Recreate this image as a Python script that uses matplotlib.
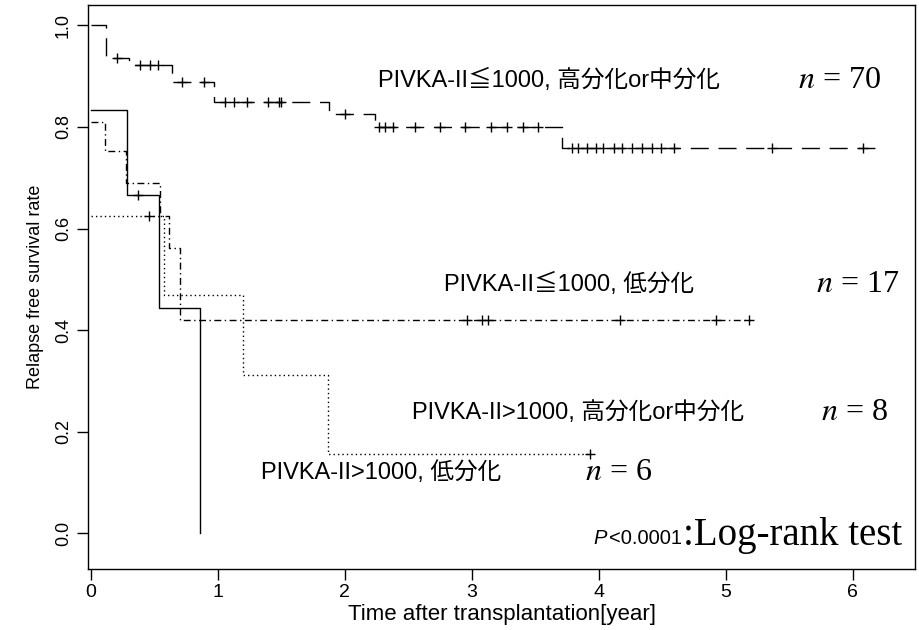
import numpy as np
import matplotlib.pyplot as plt

plt.rcParams['mathtext.fontset'] = 'stix'

# Kaplan-Meier step data
# PIVKA-II<=1000, well/moderately differentiated (n=70)
a_time = [0, 0.12, 0.30, 0.64, 0.97, 1.88, 2.24, 3.71, 6.18]
a_surv = [1.0, 0.936, 0.921, 0.888, 0.850, 0.825, 0.800, 0.758, 0.758]
a_cens = [0.21, 0.39, 0.47, 0.53, 0.72, 0.89, 1.06, 1.13, 1.23, 1.40, 1.48, 1.50,
          2.00, 2.27, 2.32, 2.38, 2.55, 2.75, 2.95, 3.15, 3.28, 3.40, 3.52,
          3.79, 3.84, 3.91, 3.98, 4.03, 4.12, 4.18, 4.26, 4.34, 4.42, 4.49, 4.59,
          5.36, 6.08]

# PIVKA-II<=1000, poorly differentiated (n=17)
b_time = [0, 0.115, 0.28, 0.546, 0.62, 0.70, 5.18]
b_surv = [0.81, 0.752, 0.69, 0.625, 0.561, 0.42, 0.42]
b_cens = [2.96, 3.08, 3.13, 4.17, 4.92, 5.18]

# PIVKA-II>1000, well/moderately differentiated (n=8)
c_time = [0, 0.58, 1.20, 1.87, 3.93]
c_surv = [0.625, 0.469, 0.3125, 0.156, 0.156]
c_cens = [0.46, 3.93]

# PIVKA-II>1000, poorly differentiated (n=6)
d_time = [0, 0.29, 0.54, 0.86]
d_surv = [0.833, 0.667, 0.444, 0.0]
d_cens = [0.37]

labels = ["PIVKA-II≦1000, 高分化or中分化", "PIVKA-II≦1000, 低分化",
          "PIVKA-II>1000, 高分化or中分化", "PIVKA-II>1000, 低分化"]
n_values = [70, 17, 8, 6]

jp = ['Liberation Sans', 'Noto Sans CJK JP', 'DejaVu Sans']
sans = ['Liberation Sans', 'DejaVu Sans']


def km_curve(ax, t, s, cens, ls):
    ax.step(t, s, where='post', color='black', lw=1.0, linestyle=ls)
    t = np.array(t)
    s = np.array(s)
    idx = np.searchsorted(t, cens, side='right') - 1
    ax.plot(cens, s[idx], '+', color='black', ms=6.5, mew=1.0)


fig = plt.figure(figsize=(9.2, 6.3), dpi=100)
ax = fig.add_axes([0.0957, 0.097, 0.899, 0.895])

km_curve(ax, a_time, a_surv, a_cens, (0, (13, 7)))
km_curve(ax, b_time, b_surv, b_cens, (0, (5, 2.5, 1, 2.5)))
km_curve(ax, c_time, c_surv, c_cens, (0, (1, 2.2)))
km_curve(ax, d_time, d_surv, d_cens, '-')

ax.set_xlim(-0.02, 6.49)
ax.set_ylim(-0.07, 1.04)
ax.set_xticks([0, 1, 2, 3, 4, 5, 6])
ax.set_yticks([0.0, 0.2, 0.4, 0.6, 0.8, 1.0])
ax.set_yticklabels(["0.0", "0.2", "0.4", "0.6", "0.8", "1.0"], rotation=90,
                   va='center', family=sans, fontsize=13)
ax.set_xticklabels(["0", "1", "2", "3", "4", "5", "6"], family=sans, fontsize=14)
ax.tick_params(axis='both', direction='out', length=8, width=1)
ax.tick_params(axis='x', pad=3)
for sp in ax.spines.values():
    sp.set_linewidth(1.0)

ax.set_xlabel("Time after transplantation[year]", fontsize=16, labelpad=2,
              family=sans)
ax.set_ylabel("Relapse free survival rate", fontsize=13, labelpad=8,
              family=sans)

# group labels and sizes
lab_pos = [(2.26, 0.891), (2.78, 0.489), (2.53, 0.238), (1.34, 0.119)]
n_x = [5.57, 5.71, 5.75, 3.89]
for lab, (x, y), nx, n in zip(labels, lab_pos, n_x, n_values):
    ax.text(x, y, lab, fontsize=17, family=jp, va='center', ha='left')
    ax.text(nx, y, r"$n$ = %d" % n, fontsize=23, family='Liberation Serif',
            va='center', ha='left')

ax.text(3.96, -0.01, "P", fontsize=14.5, style='italic',
        family='Liberation Sans', va='center', ha='left')
ax.text(4.08, -0.01, "<0.0001", fontsize=14.5, family='Liberation Sans',
        va='center', ha='left')
ax.text(4.66, -0.005, ":Log-rank test", fontsize=28, family='Liberation Serif',
        va='center', ha='left')

fig.savefig("out.png", dpi=100)
